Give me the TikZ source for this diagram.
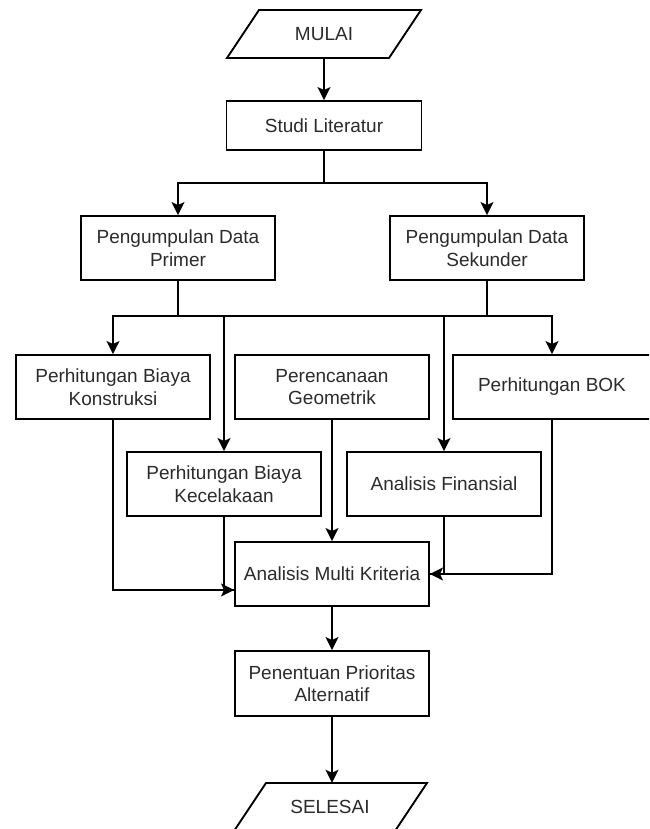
\documentclass[tikz,border=0pt]{standalone}
\usepackage{fontspec}
\setmainfont{Liberation Sans}
\usetikzlibrary{arrows.meta,calc}
\definecolor{txtc}{HTML}{2B2B2B}
\begin{document}
\begin{tikzpicture}[x=1pt,y=-1pt,
  txt/.style={font=\fontsize{19}{22.5}\selectfont, text=txtc, align=center},
  box/.style={txt, draw=black, line width=1.9pt, rectangle, minimum width=194pt, minimum height=64pt, inner sep=2pt},
  ghost/.style={txt, rectangle, minimum width=160pt, minimum height=48pt, inner sep=0pt},
  ln/.style={line width=1.9pt, draw=black},
  arr/.style={ln, -{Stealth[length=13pt,width=13pt,inset=3pt]}}]
\useasboundingbox (0,0) rectangle (649,829);
\clip (0,0) rectangle (649,829);
\fill[white] (0,0) rectangle (649,829);

% start / end parallelograms
\draw[ln, line join=miter] (259,10) -- (421,10) -- (389,58) -- (227,58) -- cycle;
\node[ghost] (mulai) at (324,34) {MULAI};
\draw[ln, line join=miter] (266,783) -- (427,783) -- (395,831) -- (234,831) -- cycle;
\node[ghost] (selesai) at (330,807) {SELESAI};

% process boxes
\node[box, minimum width=195pt, minimum height=49pt] (studi) at (324,125.5) {Studi Literatur};
\node[box] (primer) at (178,248) {Pengumpulan Data\\Primer};
\node[box] (sekunder) at (487,248) {Pengumpulan Data\\Sekunder};
\node[box] (konstruksi) at (113,387) {Perhitungan Biaya\\Konstruksi};
\node[box] (geometrik) at (332,387) {Perencanaan\\Geometrik};
\node[box, minimum width=198pt] (bok) at (552,387) {Perhitungan BOK};
\node[box] (kecelakaan) at (224,484) {Perhitungan Biaya\\Kecelakaan};
\node[box] (finansial) at (444,484) {Analisis Finansial};
\node[box] (multi) at (332,574) {Analisis Multi Kriteria};
\node[box, minimum height=65pt] (penentuan) at (332,683.5) {Penentuan Prioritas\\Alternatif};

% junction coordinates
\coordinate (js) at (324,183);
\coordinate (jl) at (178,316);
\coordinate (jr) at (487,316);
\coordinate (mw) at ($(multi.west)+(0,16)$);

% connectors
\draw[arr] (mulai.south) -- (studi.north);
\draw[ln] (studi.south) -- (js);
\draw[arr] (js) -| (primer.north);
\draw[arr] (js) -| (sekunder.north);

\draw[ln] (primer.south) -- (jl);
\draw[ln] (sekunder.south) -- (jr);
\draw[ln] (jl) -- (jr);
\draw[arr] (jl) -| (konstruksi.north);
\draw[arr] (jl) -| (kecelakaan.north);
\draw[arr] (jr) -| (finansial.north);
\draw[arr] (jr) -| (bok.north);

\draw[arr] (geometrik.south) -- (multi.north);
\draw[arr] (konstruksi.south) |- (mw);
\draw[ln] (kecelakaan.south) |- (mw);
\draw[arr] (bok.south) |- (multi.east);
\draw[ln] (finansial.south) |- (multi.east);

\draw[arr] (multi.south) -- (penentuan.north);
\draw[arr] (penentuan.south) -- (penentuan.south |- selesai.north);
\end{tikzpicture}
\end{document}
